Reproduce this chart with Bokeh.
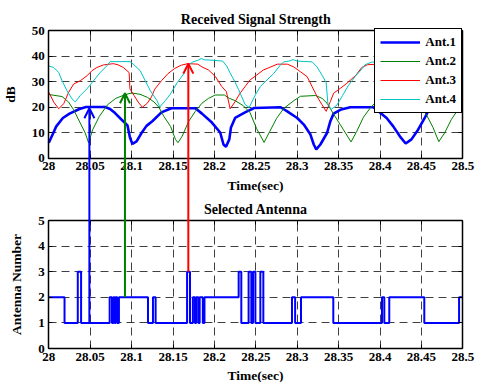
from bokeh.plotting import figure
from bokeh.models import (Range1d, FixedTicker, NumeralTickFormatter, Legend,
                          LegendItem, Arrow, OpenHead, LinearAxis, Grid, Label)
from bokeh.embed import file_html
from bokeh.resources import INLINE

FONT = "Liberation Serif"

# ---------------- data ----------------
x_ticks = [28.0, 28.05, 28.1, 28.15, 28.2, 28.25, 28.3, 28.35, 28.4, 28.45, 28.5]
db_ticks = [0, 10, 20, 30, 40, 50]
ant_ticks = [0, 1, 2, 3, 4, 5]

ant1_t = [28.000, 28.005, 28.009, 28.017, 28.025, 28.037, 28.045, 28.068, 28.074, 28.080,
          28.088, 28.095, 28.098, 28.101, 28.106, 28.112, 28.118, 28.125, 28.136, 28.148,
          28.177, 28.185, 28.197, 28.207, 28.211, 28.214, 28.218, 28.220, 28.225, 28.237,
          28.248, 28.280, 28.288, 28.300, 28.308, 28.316, 28.320, 28.323, 28.328, 28.336,
          28.340, 28.344, 28.352, 28.364, 28.392, 28.398, 28.408, 28.416, 28.424, 28.431,
          28.438, 28.446, 28.454, 28.458, 28.466, 28.475, 28.500]
ant1_db = [6.0, 9.5, 12.4, 15.7, 17.4, 19.2, 20.0, 20.0, 19.2, 17.6,
           15.0, 12.8, 8.0, 5.5, 6.5, 9.8, 12.6, 14.4, 17.9, 19.5,
           19.5, 17.4, 13.9, 10.0, 5.3, 4.4, 7.3, 12.0, 15.7, 17.9,
           19.6, 19.9, 18.3, 15.7, 13.1, 9.2, 5.3, 3.4, 5.3, 9.8,
           14.4, 17.4, 18.9, 19.9, 19.9, 18.3, 15.7, 12.4, 8.5, 5.7,
           7.3, 11.1, 15.7, 18.3, 19.5, 20.0, 20.0]

ant2_t = [28.000, 28.016, 28.024, 28.030, 28.038, 28.044, 28.048, 28.053, 28.061, 28.071,
          28.081, 28.091, 28.100, 28.110, 28.119, 28.127, 28.133, 28.139, 28.147, 28.153,
          28.156, 28.161, 28.169, 28.177, 28.185, 28.193, 28.201, 28.212, 28.218, 28.225,
          28.235, 28.243, 28.251, 28.260, 28.267, 28.275, 28.284, 28.296, 28.304, 28.322,
          28.330, 28.336, 28.344, 28.356, 28.365, 28.372, 28.380, 28.388, 28.398, 28.410,
          28.425, 28.440, 28.450, 28.456, 28.464, 28.471, 28.478, 28.486, 28.494, 28.500]
ant2_db = [24.9, 24.1, 21.9, 18.9, 13.7, 9.8, 6.0, 11.1, 16.3, 20.9,
           23.4, 24.7, 25.5, 25.0, 23.8, 22.0, 19.9, 16.3, 12.4, 7.3,
           6.0, 8.5, 14.4, 18.3, 21.5, 23.4, 24.7, 24.7, 23.4, 22.5,
           20.5, 17.8, 11.5, 6.1, 10.5, 15.5, 19.5, 22.5, 24.2, 24.5,
           23.4, 21.5, 17.2, 11.0, 6.3, 10.5, 16.0, 19.5, 23.0, 24.5,
           24.5, 22.0, 19.5, 17.0, 12.0, 6.4, 9.8, 15.0, 18.9, 20.2]

ant3_t = [28.000, 28.006, 28.012, 28.018, 28.024, 28.030, 28.038, 28.046, 28.052, 28.058,
          28.066, 28.078, 28.084, 28.090, 28.097, 28.098, 28.103, 28.108, 28.113, 28.119,
          28.124, 28.128, 28.136, 28.144, 28.152, 28.160, 28.168, 28.180, 28.185, 28.193,
          28.201, 28.209, 28.2145, 28.219, 28.225, 28.231, 28.237, 28.243, 28.251, 28.259,
          28.268, 28.276, 28.288, 28.296, 28.304, 28.312, 28.318, 28.324, 28.330, 28.335,
          28.340, 28.344, 28.352, 28.360, 28.371, 28.378, 28.385, 28.415, 28.425, 28.435,
          28.444, 28.450, 28.465, 28.480, 28.490, 28.500]
ant3_db = [25.8, 21.9, 19.3, 21.3, 25.8, 29.0, 30.3, 32.2, 34.2, 35.5,
           36.5, 37.0, 36.5, 35.5, 33.5, 27.1, 24.5, 21.9, 19.9, 21.5,
           24.0, 27.0, 30.3, 33.1, 35.1, 36.4, 37.0, 36.8, 35.7, 34.5,
           32.0, 28.0, 26.0, 19.3, 22.1, 25.4, 28.0, 30.6, 32.5, 34.5,
           35.7, 36.8, 36.8, 35.7, 33.8, 31.9, 28.0, 24.1, 20.9, 18.3,
           22.1, 25.4, 27.3, 29.3, 32.5, 35.5, 36.6, 37.0, 34.0, 28.0,
           18.3, 23.0, 29.0, 33.5, 36.0, 36.8]

ant4_t = [28.000, 28.006, 28.012, 28.016, 28.022, 28.028, 28.032, 28.038, 28.046, 28.054,
          28.062, 28.070, 28.074, 28.098, 28.102, 28.1105, 28.1165, 28.1226, 28.1307, 28.134,
          28.1407, 28.1467, 28.155, 28.163, 28.168, 28.174, 28.180, 28.184, 28.188, 28.200,
          28.210, 28.215, 28.2195, 28.223, 28.229, 28.237, 28.242, 28.2494, 28.2554, 28.2635,
          28.2715, 28.2796, 28.2836, 28.290, 28.295, 28.300, 28.318, 28.324, 28.330, 28.335,
          28.337, 28.341, 28.348, 28.355, 28.362, 28.370, 28.377, 28.382, 28.390, 28.420,
          28.428, 28.436, 28.444, 28.450, 28.458, 28.470, 28.485, 28.500]
ant4_db = [36.1, 35.5, 33.5, 30.3, 26.4, 23.2, 22.0, 24.5, 27.1, 30.3,
           33.5, 36.1, 37.8, 37.8, 36.8, 34.2, 30.3, 26.4, 22.5, 20.0,
           22.5, 25.0, 29.5, 33.0, 36.2, 37.7, 38.3, 39.0, 38.5, 38.3,
           38.0, 36.0, 33.0, 31.0, 27.0, 21.0, 19.8, 24.7, 28.0, 30.6,
           33.1, 36.4, 37.7, 38.0, 38.6, 38.0, 37.7, 35.7, 32.5, 29.5,
           21.5, 19.0, 20.8, 24.6, 28.5, 32.0, 34.5, 36.6, 37.6, 38.0,
           35.0, 29.0, 22.0, 20.0, 23.5, 28.5, 33.0, 36.5]

sel_t = [28.000, 28.019, 28.035, 28.039, 28.0735, 28.0763, 28.078, 28.0795, 28.0807, 28.0827,
         28.0847, 28.1198, 28.1258, 28.129, 28.167, 28.1705, 28.174, 28.1765, 28.178, 28.1806,
         28.1822, 28.186, 28.188, 28.2293, 28.2325, 28.2413, 28.2446, 28.2466, 28.2495, 28.2555,
         28.2591, 28.2937, 28.2975, 28.3046, 28.3436, 28.4024, 28.4052, 28.4112, 28.4535, 28.4955,
         28.500]
sel_ant = [2, 1, 3, 1, 2, 1, 2, 1, 2, 1,
           2, 1, 2, 1, 3, 1, 2, 1, 2, 1,
           2, 1, 2, 3, 1, 3, 1, 3, 1, 3,
           1, 2, 1, 2, 1, 2, 1, 2, 1, 2,
           2]

labels = ["Ant.1", "Ant.2", "Ant.3", "Ant.4"]
colors = ["#0000FF", "#008000", "#FF0000", "#00C4C4"]
widths = [2.6, 1, 1, 1]

arrow_t = [28.049, 28.092, 28.1685]
arrow_db = [19.5, 25.4, 37.0]
arrow_sel = [1, 2, 3]
arrow_colors = ["#0000FF", "#008000", "#FF0000"]

titles = ["Received Signal Strength", "Selected Antenna"]
xlabel = "Time(sec)"
ylabels = ["dB", "Antenna Number"]

# ---------------- layout (pixel positions of the two plot boxes) ----------------
W, H = 477, 382
BOX_L, BOX_R = 48.3, 462.3
TOP_Y0, TOP_Y1 = 30.0, 157.5     # screen y of 50 dB and 0 dB
BOT_Y0, BOT_Y1 = 220.0, 348.0    # screen y of antenna 5 and 0

x_span = x_ticks[-1] - x_ticks[0]
db_span = db_ticks[-1] - db_ticks[0]
ant_span = ant_ticks[-1] - ant_ticks[0]


def x_at(px):
    return x_ticks[0] + (px - BOX_L) * x_span / (BOX_R - BOX_L)


def db_at(px):
    return db_ticks[-1] - (px - TOP_Y0) * db_span / (TOP_Y1 - TOP_Y0)


def ant_at(px):
    return ant_ticks[-1] - (px - BOT_Y0) * ant_span / (BOT_Y1 - BOT_Y0)


def ant_px(v):
    return BOT_Y1 - (v - ant_ticks[0]) * (BOT_Y1 - BOT_Y0) / ant_span


# the frame covers the whole canvas; each plot box is drawn with fixed axes
p = figure(width=W, height=H, min_border=0, title=None,
           x_range=Range1d(x_at(0), x_at(W)), y_range=Range1d(db_at(H), db_at(0)),
           x_axis_type=None, y_axis_type=None,
           output_backend="svg", toolbar_location=None)
p.extra_y_ranges = {"ant": Range1d(ant_at(H), ant_at(0))}
p.min_border_left = p.min_border_right = p.min_border_top = p.min_border_bottom = 0
p.outline_line_color = None
p.background_fill_color = "white"
p.border_fill_color = "white"


def make_axis(ticker_vals, fixed, rname, bounds, show_labels=True, label=None, fmt=None):
    ax = LinearAxis(ticker=FixedTicker(ticks=ticker_vals), fixed_location=fixed,
                    y_range_name=rname, bounds=bounds)
    ax.axis_line_color = "black"
    ax.axis_line_width = 1.5
    ax.major_tick_in = 4
    ax.major_tick_out = 0
    ax.major_tick_line_color = "black"
    ax.minor_tick_line_color = None
    ax.major_label_text_font = FONT
    ax.major_label_text_font_style = "bold"
    ax.major_label_text_font_size = "13px"
    ax.major_label_text_color = "black"
    ax.major_label_standoff = 4
    if not show_labels:
        ax.major_label_text_font_size = "0px"
        ax.major_label_text_alpha = 0
    if fmt is not None:
        ax.formatter = fmt
    if label:
        ax.axis_label = label
        ax.axis_label_text_font = FONT
        ax.axis_label_text_font_style = "bold"
        ax.axis_label_text_font_size = "13.5px"
        ax.axis_label_text_color = "black"
    return ax


xfmt = NumeralTickFormatter(format="0.[00]")
xb = (x_ticks[0], x_ticks[-1])
for rname, yt, ylab in (("default", db_ticks, ylabels[0]), ("ant", ant_ticks, ylabels[1])):
    yb = (yt[0], yt[-1])
    bottom_ax = make_axis(x_ticks, yt[0], rname, xb, label=xlabel, fmt=xfmt)
    bottom_ax.axis_label_standoff = 4
    p.add_layout(bottom_ax, "below")
    p.add_layout(make_axis(x_ticks, yt[-1], rname, xb, show_labels=False), "above")
    left_ax = make_axis(yt, x_ticks[0], rname, yb, label=ylab)
    left_ax.axis_label_standoff = 11
    p.add_layout(left_ax, "left")
    p.add_layout(make_axis(yt, x_ticks[-1], rname, yb, show_labels=False), "right")

# dashed grids, limited to each box
has_cross = "cross_bounds" in Grid.properties()
for rname, yt in (("default", db_ticks), ("ant", ant_ticks)):
    if has_cross:
        for dim, tv, cb in ((1, yt, xb), (0, x_ticks, (yt[0], yt[-1]))):
            g = Grid(dimension=dim, ticker=FixedTicker(ticks=tv), y_range_name=rname,
                     cross_bounds=cb)
            g.grid_line_color = "black"
            g.grid_line_alpha = 0.75
            g.grid_line_dash = "8 5"
            p.add_layout(g)
    else:
        n, m = len(x_ticks), len(yt)
        p.segment(x0=x_ticks, y0=[yt[0]] * n, x1=x_ticks, y1=[yt[-1]] * n,
                  y_range_name=rname, line_color="black", line_alpha=0.75,
                  line_dash="8 5", level="underlay")
        p.segment(x0=[xb[0]] * m, y0=yt, x1=[xb[1]] * m, y1=yt,
                  y_range_name=rname, line_color="black", line_alpha=0.75,
                  line_dash="8 5", level="underlay")

# titles
x_mid = (x_ticks[0] + x_ticks[-1]) / 2
for txt, yv, rname in ((titles[0], db_ticks[-1], "default"), (titles[1], ant_ticks[-1], "ant")):
    p.add_layout(Label(x=x_mid, y=yv, y_range_name=rname, y_offset=11, text=txt,
                       text_align="center", text_baseline="alphabetic", text_font=FONT,
                       text_font_style="bold", text_font_size="14px", text_color="black"))

# signal curves
series = [(ant1_t, ant1_db), (ant2_t, ant2_db), (ant3_t, ant3_db), (ant4_t, ant4_db)]
items = []
for (t, d), lab, c, w in zip(series, labels, colors, widths):
    r = p.line(t, d, line_color=c, line_width=w)
    items.append(LegendItem(label=lab, renderers=[r]))

# selected antenna
p.step(sel_t, sel_ant, mode="after", line_color="#0000FF", line_width=2, y_range_name="ant")

# arrows from the selected antenna up to its signal curve
for t, d, s, c in zip(arrow_t, arrow_db, arrow_sel, arrow_colors):
    p.add_layout(Arrow(end=OpenHead(size=10, line_color=c, line_width=2),
                       x_start=t, y_start=db_at(ant_px(s)), x_end=t, y_end=d,
                       line_color=c, line_width=2))

LEG_W, LEG_H = 88, 83
legend = Legend(items=items, location=(BOX_R - LEG_W, H - TOP_Y0 - LEG_H), margin=0,
                padding=5, spacing=3,
                glyph_width=40, glyph_height=14, label_height=14, label_standoff=5,
                border_line_color="black", border_line_width=1.5, border_line_alpha=1,
                background_fill_color="white", background_fill_alpha=1,
                label_text_font=FONT, label_text_font_style="bold",
                label_text_font_size="13px", label_text_color="black")
p.add_layout(legend)

open("out.html", "w").write(file_html(p, INLINE))
